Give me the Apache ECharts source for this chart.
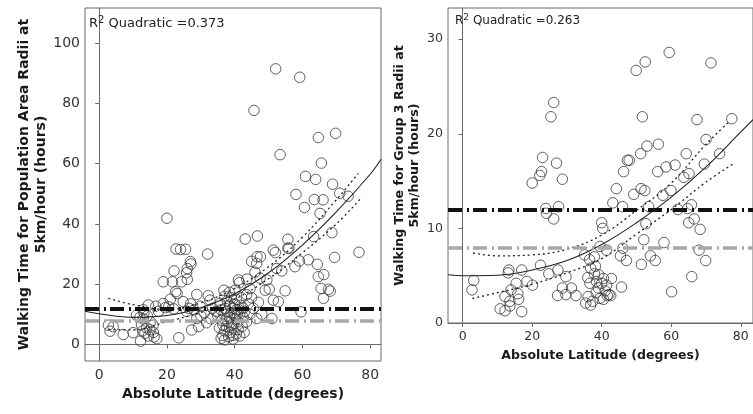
<!DOCTYPE html>
<html><head><meta charset="utf-8">
<script src="https://cdn.jsdelivr.net/npm/echarts@6/dist/echarts.min.js"></script>
<style>html,body{margin:0;padding:0;background:#fff}#c{width:753px;height:414px}</style>
</head><body><div id="c"></div>
<script>
// ---------- data ----------
const xTicks = [0, 20, 40, 60, 80];
const leftYTicks = [0, 20, 40, 60, 80, 100];
const rightYTicks = [0, 10, 20, 30];
const refLines = [12, 8];           // black dash-dot, grey dash-dot
const leftR2 = '0.373';
const rightR2 = '0.263';

const leftPoints = [
[2.7,6.4],[3.2,4.4],[4.1,5.9],[7.1,3.3],[10.0,3.9],[11.0,9.7],[12.2,1.1],[12.5,6.5],[13.0,8.5],[13.5,3.7],
[13.2,10.5],[14.0,5.5],[14.5,2.8],[15.0,4.8],[15.2,7.5],[15.9,6.4],[16.2,2.5],[17.0,1.9],[14.5,13.1],[16.7,12.7],
[18.9,13.6],[13.0,11.5],[12.0,9.0],[14.2,9.5],[16.0,4.0],[12.8,4.5],[17.5,11.0],[19.5,12.2],
[20.0,41.9],[22.7,31.7],[24.0,31.5],[25.5,31.6],[32.0,30.0],[26.9,27.5],[27.1,26.7],[26.0,25.2],[22.1,24.4],[25.8,23.8],
[26.0,21.6],[18.9,20.8],[21.6,20.8],[24.3,20.8],[23.0,16.9],[22.6,17.5],[28.8,16.6],[32.2,16.2],[24.8,14.2],[29.8,12.7],
[32.7,14.7],[23.5,2.2],[27.3,4.8],[29.3,5.9],[31.7,7.2],[28.8,8.6],[25.8,11.0],[20.5,12.5],[22.0,11.8],[26.5,12.0],
[31.0,10.5],[33.5,12.0],[21.0,15.0],[27.0,13.5],[30.0,9.5],[28.0,11.5],[34.5,11.0],[33.0,8.5],
[35.7,13.6],[36.8,18.0],[38.4,17.3],[40.1,18.0],[41.4,20.5],[43.6,21.7],[36.0,2.0],[36.5,3.0],[37.0,4.5],[37.5,6.0],
[38.0,7.5],[38.5,9.0],[39.0,10.5],[39.5,12.0],[40.0,13.5],[40.5,15.0],[36.2,8.0],[36.8,10.0],[37.2,12.0],[37.8,14.5],
[38.2,2.5],[38.8,4.0],[39.2,5.5],[39.8,7.0],[40.3,8.5],[40.8,10.0],[41.2,11.5],[41.8,13.0],[42.2,6.0],[42.5,9.0],
[42.8,4.0],[43.0,11.0],[43.5,7.5],[44.0,13.5],[44.5,10.0],[45.0,15.5],[37.0,16.0],[39.0,15.5],[40.5,3.5],[41.0,5.0],
[35.5,5.5],[36.0,11.5],[38.0,11.0],[41.5,2.8],[42.0,15.5],[39.5,3.0],[37.5,8.5],[39.0,6.5],[40.0,9.5],[41.0,7.5],
[36.5,6.5],[38.5,13.0],[42.5,12.0],[43.5,16.5],[35.0,9.5],[37.0,1.5],[40.5,11.5],[39.5,1.8],
[45.0,27.6],[46.0,24.0],[46.5,26.9],[46.6,29.1],[47.6,29.1],[43.1,35.0],[46.7,36.0],[45.7,77.7],[46.5,8.6],[45.5,12.0],
[47.0,14.0],[48.0,10.0],[44.5,18.5],[47.5,22.0],[49.0,18.0],[49.5,21.4],[50.2,18.4],[51.4,31.3],[52.4,25.2],[51.0,8.6],
[51.4,14.7],[52.9,14.2],[52.1,91.5],[53.4,63.0],[53.9,24.4],[54.9,17.8],[55.7,34.9],[55.7,32.0],[41.1,21.4],[52.0,30.5],
[57.8,25.8],[58.1,49.8],[59.1,27.7],[59.2,88.7],[59.6,10.8],[60.9,55.8],[60.6,45.5],[61.7,28.1],[63.3,35.8],[63.5,48.1],
[63.9,54.8],[64.4,26.6],[64.7,68.7],[64.7,22.5],[65.2,43.5],[65.6,60.2],[65.5,18.6],[66.1,48.0],[66.3,23.2],[66.2,15.3],
[67.7,18.3],[68.2,17.7],[68.9,53.2],[68.7,37.1],[69.5,28.9],[69.8,70.1],[71.0,50.2],[73.5,49.2],[76.7,30.6],[56.0,31.9]
];

const rightPoints = [
[59.4,28.6],[71.4,27.5],[52.5,27.6],[49.9,26.7],[26.2,23.3],[25.4,21.8],[51.7,21.8],[67.4,21.5],[77.4,21.6],[70.0,19.4],
[56.3,18.9],[53.0,18.7],[51.2,17.9],[64.3,17.9],[73.9,17.9],[23.0,17.5],[27.0,16.9],[47.4,17.2],[47.9,17.2],[69.5,16.8],
[61.1,16.7],[58.5,16.5],[22.7,16.0],[22.2,15.6],[46.3,16.0],[56.1,16.0],[65.1,15.8],[63.6,15.4],[20.0,14.8],[28.7,15.2],
[44.2,14.2],[51.3,14.2],[52.4,14.0],[49.2,13.6],[57.6,13.5],[59.9,14.0],[43.2,12.7],[46.0,12.3],[53.5,12.3],[27.6,12.3],
[23.9,12.1],[24.1,11.6],[26.2,11.0],[61.9,12.0],[65.8,12.5],[64.7,12.1],[65.0,10.6],[66.6,11.0],[68.3,9.9],[52.7,10.5],
[40.0,10.6],[40.3,10.0],[52.1,8.8],[57.9,8.5],[39.5,8.1],[41.4,7.7],[46.1,7.9],[45.4,7.1],[47.1,6.6],[54.0,7.1],
[55.4,6.6],[68.0,7.7],[69.9,6.6],[51.4,6.2],[65.9,4.9],[60.1,3.3],[45.7,3.8],
[35.1,7.2],[36.5,6.7],[37.9,7.0],[36.8,5.8],[38.2,6.0],[36.0,4.8],[37.9,5.2],[39.1,5.1],[40.5,4.7],[36.6,4.2],
[38.5,4.4],[40.0,4.2],[41.4,4.0],[42.8,4.7],[39.0,3.7],[36.1,2.8],[35.4,2.1],[36.8,1.9],[37.4,2.3],[38.4,3.2],
[39.5,2.6],[40.5,2.5],[41.6,2.9],[42.1,3.0],[42.6,2.9],[41.0,3.4],
[22.4,6.1],[24.8,5.2],[27.4,5.6],[29.7,4.9],[28.7,3.7],[31.3,3.7],[27.3,2.9],[29.7,3.0],[32.6,2.9],[20.1,4.0],
[18.5,4.4],[17.0,5.6],[13.3,5.6],[13.1,5.3],[15.4,4.2],[13.9,3.5],[12.2,2.8],[13.6,2.3],[15.9,3.1],[16.1,2.5],
[10.8,1.5],[12.2,1.3],[13.6,1.8],[17.0,1.2],[3.2,4.5],[2.7,3.5]
];

// quadratic fit line and its confidence band
const leftFitX = [-4.2, 0, 10, 20, 30, 40, 50, 60, 70, 80, 83.2];
const leftFitY = [11.0, 10.2, 9.0, 9.6, 12.2, 16.8, 23.8, 33.0, 44.0, 56.5, 61.5];
const leftUpX = [2.7, 10, 20, 30, 40, 50, 60, 70, 76.5];
const leftUpY = [15.3, 13.2, 11.6, 13.8, 18.6, 25.8, 35.6, 48.0, 56.8];
const leftLoX = [2.7, 10, 20, 30, 40, 50, 60, 70, 77.0];
const leftLoY = [5.0, 4.8, 7.6, 10.6, 15.0, 21.8, 30.4, 40.0, 48.2];

const rightFitX = [-4.2, 0, 10, 20, 30, 40, 50, 60, 70, 80, 83.5];
const rightFitY = [5.1, 5.0, 5.05, 5.6, 6.6, 8.3, 10.6, 13.3, 16.5, 20.2, 21.5];
const rightUpX = [3, 10, 20, 30, 40, 50, 60, 70, 76.7];
const rightUpY = [7.4, 7.1, 7.2, 7.8, 9.3, 11.9, 14.8, 18.9, 21.3];
const rightLoX = [2.8, 10, 20, 30, 40, 50, 60, 70, 77.7];
const rightLoY = [2.6, 3.2, 4.1, 5.3, 6.8, 9.4, 12.0, 14.9, 16.8];

// ---------- chart ----------
const FONT = 'DejaVu Sans';
const AXC = '#6a6a6a';
const pairs = (xs, ys) => xs.map((x, i) => [x, ys[i]]);

function xAxisDef(gi, min, max, fs, gap) {
  return {
    type: 'value', gridIndex: gi, min: min, max: max,
    name: 'Absolute Latitude (degrees)', nameLocation: 'middle', nameGap: gap,
    nameTextStyle: { fontFamily: FONT, fontWeight: 'bold', fontSize: fs, color: '#1a1a1a' },
    axisLine: { show: true, lineStyle: { color: AXC } },
    axisTick: { show: true, length: 4, lineStyle: { color: AXC }, customValues: xTicks },
    axisLabel: { customValues: xTicks, margin: 7, fontFamily: FONT, fontSize: fs, color: '#333' },
    splitLine: { show: false }
  };
}
function yAxisDef(gi, min, max, ticks, name, fs, gap, lh) {
  return {
    type: 'value', gridIndex: gi, min: min, max: max,
    name: name, nameLocation: 'middle', nameRotate: 90, nameGap: gap,
    nameTextStyle: { fontFamily: FONT, fontWeight: 'bold', fontSize: fs, lineHeight: lh, color: '#1a1a1a', align: 'center' },
    axisLine: { show: true, lineStyle: { color: AXC } },
    axisTick: { show: true, length: 4, lineStyle: { color: AXC }, customValues: ticks },
    axisLabel: { customValues: ticks, margin: 5, fontFamily: FONT, fontSize: fs, color: '#333' },
    splitLine: { show: false }
  };
}
function scatter(gi, data) {
  return {
    type: 'scatter', xAxisIndex: gi, yAxisIndex: gi, data: data, symbol: 'circle', symbolSize: 10.5,
    itemStyle: { color: 'rgba(255,255,255,0)', borderColor: '#3a3a3a', borderWidth: 1 }, z: 2
  };
}
function curve(gi, data, dotted, refs) {
  const s = {
    type: 'line', xAxisIndex: gi, yAxisIndex: gi, data: data, smooth: 0.4, showSymbol: false, symbol: 'none',
    lineStyle: { color: '#222', width: dotted ? 1.3 : 1.1, type: dotted ? [2, 3] : 'solid' }, z: 3, silent: true
  };
  if (refs) {
    s.markLine = {
      silent: true, symbol: ['none', 'none'], label: { show: false }, animation: false,
      data: refs.map((v, i) => ({ yAxis: v, lineStyle: i === 0
        ? { color: '#111', width: 4, type: [14, 5, 2, 4] }
        : { color: '#a8a8a8', width: 3.5, type: [14, 5, 2, 4] } }))
    };
  }
  return s;
}
const r2 = (val, fs) => ({
  text: '{a|R}{s|2}{a| Quadratic =' + val + '}',
  textStyle: { fontWeight: 'normal', rich: {
    a: { fontFamily: FONT, fontWeight: 'normal', fontSize: fs, color: '#222', lineHeight: fs + 4 },
    s: { fontFamily: FONT, fontWeight: 'normal', fontSize: fs - 3, color: '#222', verticalAlign: 'top', lineHeight: fs + 4 }
  } }
});

const chart = echarts.init(document.getElementById('c'), null, { renderer: 'canvas' });
chart.setOption({
  animation: false,
  backgroundColor: '#fff',
  title: [
    Object.assign({ left: 89, top: 15, padding: 0 }, r2(leftR2, 13)),
    Object.assign({ left: 455, top: 13, padding: 0 }, r2(rightR2, 12))
  ],
  grid: [
    { left: 85, top: 8, width: 296, height: 353, show: true, borderColor: AXC, borderWidth: 1, containLabel: false },
    { left: 448, top: 8, width: 313, height: 315, show: true, borderColor: AXC, borderWidth: 1, containLabel: false }
  ],
  xAxis: [ xAxisDef(0, -4.2, 83.2, 14, 16), xAxisDef(1, -4.2, 83.5, 12.5, 26) ],
  yAxis: [
    yAxisDef(0, -5.5, 111.7, leftYTicks, 'Walking Time for Population Area Radii at\n5km/hour (hours)', 14, 33, 17),
    yAxisDef(1, 0, 33.3, rightYTicks, 'Walking Time for Group 3 Radii at\n5km/hour (hours)', 12.6, 26, 15)
  ],
  series: [
    scatter(0, leftPoints),
    curve(0, pairs(leftFitX, leftFitY), false, refLines),
    curve(0, pairs(leftUpX, leftUpY), true),
    curve(0, pairs(leftLoX, leftLoY), true),
    scatter(1, rightPoints),
    curve(1, pairs(rightFitX, rightFitY), false, refLines),
    curve(1, pairs(rightUpX, rightUpY), true),
    curve(1, pairs(rightLoX, rightLoY), true)
  ]
});
</script></body></html>
